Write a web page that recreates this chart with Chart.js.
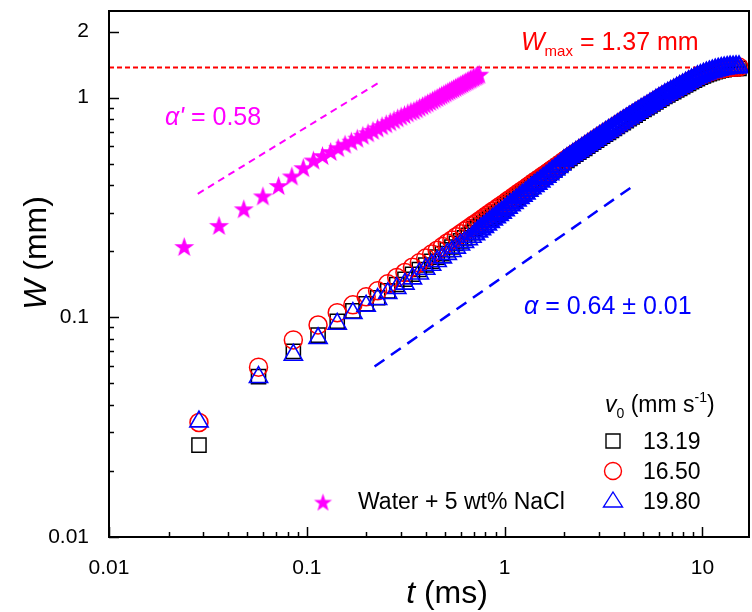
<!DOCTYPE html>
<html>
<head>
<meta charset="utf-8">
<script src="https://cdn.jsdelivr.net/npm/chart.js@4.4.1/dist/chart.umd.min.js"></script>
<style>
  html, body { margin: 0; padding: 0; background: #fff; }
  #wrap { width: 752px; height: 612px; }
</style>
</head>
<body>
<div id="wrap"><canvas id="graph" width="752" height="612"></canvas></div>
<script>
// frame times (ms), shared by the three v0 runs
const timeMs = [0.0285, 0.057, 0.0855, 0.114, 0.1425, 0.171, 0.1995, 0.228, 0.2565, 0.285,
  0.3135, 0.342, 0.3705, 0.399, 0.4275, 0.456, 0.4845, 0.513, 0.5415, 0.57,
  0.5985, 0.627, 0.6555, 0.684,
  0.708, 0.733, 0.759, 0.785, 0.813, 0.841, 0.871, 0.902, 0.933, 0.966,
  1.000, 1.035, 1.072, 1.109, 1.148, 1.189, 1.230, 1.274, 1.318, 1.365,
  1.413, 1.462, 1.514, 1.567, 1.622, 1.679, 1.738, 1.799, 1.862, 1.928,
  1.995, 2.065, 2.138, 2.213, 2.291, 2.371, 2.455, 2.541, 2.630, 2.723,
  2.818, 2.917, 3.020, 3.126, 3.236, 3.350, 3.467, 3.589, 3.715, 3.846,
  3.981, 4.121, 4.266, 4.416, 4.571, 4.732, 4.898, 5.070, 5.248, 5.433,
  5.623, 5.821, 6.026, 6.237, 6.457, 6.683, 6.918, 7.161, 7.413, 7.674,
  7.943, 8.222, 8.511, 8.810, 9.120, 9.441, 9.772, 10.12, 10.47, 10.84,
  11.22, 11.61, 12.02, 12.45, 12.88, 13.34, 13.80, 14.29, 14.79, 15.31];

// W (mm), v0 = 13.19 mm/s (squares)
const w1319 = [0.0262, 0.0537, 0.0700, 0.0830, 0.0960, 0.107, 0.1153, 0.1228, 0.132, 0.141,
  0.149, 0.157, 0.165, 0.173, 0.180, 0.188, 0.195, 0.203, 0.209, 0.217,
  0.223, 0.230, 0.236, 0.243,
  0.253, 0.258, 0.264, 0.270, 0.277, 0.282, 0.289, 0.295, 0.301, 0.308,
  0.321, 0.329, 0.336, 0.343, 0.351, 0.359, 0.367, 0.374, 0.383, 0.392,
  0.407, 0.416, 0.425, 0.434, 0.443, 0.453, 0.464, 0.474, 0.485, 0.496,
  0.507, 0.518, 0.529, 0.541, 0.553, 0.564, 0.576, 0.588, 0.601, 0.614,
  0.627, 0.640, 0.654, 0.668, 0.682, 0.695, 0.709, 0.724, 0.739, 0.755,
  0.770, 0.786, 0.802, 0.818, 0.833, 0.850, 0.867, 0.884, 0.900, 0.918,
  0.936, 0.955, 0.973, 0.992, 1.012, 1.029, 1.047, 1.065, 1.084, 1.102,
  1.122, 1.142, 1.161, 1.182, 1.202, 1.221, 1.239, 1.256, 1.272, 1.286,
  1.299, 1.312, 1.323, 1.333, 1.341, 1.348, 1.352, 1.355, 1.357, 1.357];

// W (mm), v0 = 16.50 mm/s (circles)
const w1650 = [0.0332, 0.0593, 0.0789, 0.0923, 0.105, 0.114, 0.124, 0.132, 0.142, 0.152,
  0.160, 0.169, 0.177, 0.186, 0.194, 0.202, 0.210, 0.218, 0.225, 0.233,
  0.240, 0.247, 0.254, 0.261,
  0.266, 0.272, 0.278, 0.284, 0.291, 0.297, 0.304, 0.310, 0.317, 0.324,
  0.331, 0.339, 0.346, 0.354, 0.362, 0.370, 0.378, 0.386, 0.395, 0.404,
  0.413, 0.422, 0.431, 0.441, 0.450, 0.460, 0.471, 0.481, 0.492, 0.503,
  0.515, 0.526, 0.537, 0.549, 0.561, 0.573, 0.585, 0.597, 0.610, 0.623,
  0.637, 0.650, 0.664, 0.678, 0.692, 0.706, 0.720, 0.735, 0.750, 0.766,
  0.782, 0.798, 0.814, 0.830, 0.846, 0.863, 0.880, 0.897, 0.914, 0.932,
  0.950, 0.969, 0.988, 1.007, 1.027, 1.045, 1.063, 1.081, 1.100, 1.119,
  1.139, 1.159, 1.179, 1.200, 1.220, 1.240, 1.258, 1.275, 1.291, 1.306,
  1.319, 1.332, 1.343, 1.353, 1.361, 1.368, 1.373, 1.376, 1.378, 1.378];

// W (mm), v0 = 19.80 mm/s (triangles)
const w1980 = [0.0335, 0.0534, 0.0674, 0.0803, 0.0933, 0.1044, 0.1127, 0.1209, 0.1287, 0.1357,
  0.142, 0.150, 0.158, 0.166, 0.173, 0.180, 0.187, 0.194, 0.200, 0.207,
  0.214, 0.220, 0.226, 0.232,
  0.239, 0.246, 0.252, 0.258, 0.265, 0.272, 0.279, 0.286, 0.293, 0.300,
  0.308, 0.316, 0.324, 0.332, 0.341, 0.350, 0.358, 0.367, 0.377, 0.387,
  0.397, 0.406, 0.416, 0.427, 0.437, 0.449, 0.461, 0.472, 0.484, 0.497,
  0.515, 0.526, 0.537, 0.549, 0.561, 0.573, 0.585, 0.597, 0.610, 0.623,
  0.637, 0.650, 0.664, 0.678, 0.692, 0.706, 0.720, 0.735, 0.750, 0.766,
  0.782, 0.798, 0.814, 0.830, 0.846, 0.863, 0.880, 0.897, 0.914, 0.932,
  0.950, 0.969, 0.988, 1.007, 1.027, 1.045, 1.063, 1.081, 1.100, 1.119,
  1.139, 1.159, 1.179, 1.200, 1.220, 1.240, 1.258, 1.275, 1.291, 1.306,
  1.319, 1.332, 1.343, 1.353, 1.361, 1.368, 1.373, 1.376, 1.378, 1.378];

// water + 5 wt% NaCl (stars)
const saltTimeMs = [0.024, 0.036, 0.048, 0.060, 0.072, 0.084, 0.096, 0.108, 0.120, 0.132,
  0.144, 0.156, 0.168, 0.180, 0.192, 0.204, 0.216, 0.228, 0.240, 0.252,
  0.264, 0.276, 0.288, 0.300, 0.312, 0.324, 0.336, 0.348, 0.360, 0.372,
  0.384, 0.396, 0.408, 0.420, 0.432, 0.444, 0.456, 0.468, 0.480, 0.492,
  0.504, 0.516, 0.528, 0.540, 0.552, 0.564, 0.576, 0.588, 0.600, 0.612,
  0.624, 0.636, 0.648, 0.660, 0.672, 0.684, 0.696, 0.708, 0.720, 0.732, 0.744];
const saltW = [0.210, 0.262, 0.312, 0.357, 0.398, 0.440, 0.480, 0.520, 0.545, 0.569,
  0.592, 0.614, 0.634, 0.654, 0.674, 0.692, 0.710, 0.728, 0.745, 0.761,
  0.777, 0.793, 0.809, 0.824, 0.838, 0.853, 0.867, 0.875, 0.890, 0.905,
  0.919, 0.933, 0.947, 0.961, 0.975, 0.988, 1.002, 1.015, 1.028, 1.040,
  1.053, 1.066, 1.078, 1.090, 1.102, 1.114, 1.126, 1.137, 1.149, 1.160,
  1.172, 1.183, 1.194, 1.205, 1.216, 1.227, 1.238, 1.248, 1.259, 1.269, 1.279];

// guide lines
const wMaxT = [0.01, 17.2];
const wMaxW = [1.37, 1.37];
const alphaSaltT = [0.0281, 0.231];
const alphaSaltW = [0.365, 1.17];
const alphaT = [0.22, 4.46];
const alphaW = [0.0597, 0.396];

// axes
const xMin = 0.01, xMax = 17.2;
const yMin = 0.01, yMax = 2.48;
const xTicks = [0.01, 0.1, 1, 10];
const xTickLabels = ['0.01', '0.1', '1', '10'];
const yTicks = [0.01, 0.1, 1, 2];
const yTickLabels = ['0.01', '0.1', '1', '2'];

const FONT = "'Liberation Sans', Arial, sans-serif";
const RED = '#ff0000', BLUE = '#0000ff', MAG = '#ff00ff';

const pts = (xs, ys) => xs.map((x, i) => ({ x: x, y: ys[i] }));

// filled five-point star used as point style
function makeStar(outer, inner) {
  const c = document.createElement('canvas');
  c.width = c.height = Math.ceil(outer * 2 + 2);
  const g = c.getContext('2d');
  const cx = c.width / 2, cy = c.height / 2 + outer * 0.1;
  g.fillStyle = MAG;
  g.beginPath();
  for (let i = 0; i < 10; i++) {
    const r = i % 2 ? inner : outer;
    const a = -Math.PI / 2 + i * Math.PI / 5;
    g.lineTo(cx + r * Math.cos(a), cy + r * Math.sin(a));
  }
  g.closePath();
  g.fill();
  return c;
}
const starImg = makeStar(10.5, 4.2);
const starLegend = makeStar(9.5, 3.8);

function textRun(ctx, x, y, parts, color) {
  ctx.fillStyle = color;
  ctx.textAlign = 'left';
  ctx.textBaseline = 'alphabetic';
  for (const p of parts) {
    ctx.font = p.font;
    ctx.fillText(p.t, x, y + (p.dy || 0));
    x += ctx.measureText(p.t).width;
  }
  return x;
}

// no extra room for tick labels: the plot box is fixed
function fixBox(size, key) {
  return s => {
    s[key] = size;
    s.paddingLeft = s.paddingRight = s.paddingTop = s.paddingBottom = 0;
  };
}

const framePlugin = {
  id: 'frame',
  afterDatasetsDraw(chart) {
    const ctx = chart.ctx;
    const a = chart.chartArea;
    const sx = chart.scales.x, sy = chart.scales.y;
    ctx.save();
    ctx.strokeStyle = '#000';
    // inward tick marks
    ctx.lineWidth = 1.5;
    for (let d = -2; d <= 1; d++) {
      for (let m = 1; m <= 9; m++) {
        const v = m * Math.pow(10, d);
        if (v >= xMin * 0.999 && v <= xMax) {
          const p = Math.round(sx.getPixelForValue(v)) + 0.5;
          const len = m === 1 ? 10 : 5;
          ctx.beginPath(); ctx.moveTo(p, a.bottom); ctx.lineTo(p, a.bottom - len); ctx.stroke();
        }
        if (v >= yMin * 0.999 && v <= yMax) {
          const p = Math.round(sy.getPixelForValue(v)) + 0.5;
          const len = (m === 1 || v === 2) ? 10 : 5;
          ctx.beginPath(); ctx.moveTo(a.left, p); ctx.lineTo(a.left + len, p); ctx.stroke();
        }
      }
    }
    // box
    ctx.lineWidth = 2;
    ctx.strokeRect(a.left, a.top, a.right - a.left, a.bottom - a.top);
    ctx.restore();
  },
  afterDraw(chart) {
    const ctx = chart.ctx;
    ctx.save();
    // axis titles
    ctx.font = 'italic 32px ' + FONT;
    let wT = ctx.measureText('t').width;
    ctx.font = '32px ' + FONT;
    wT += ctx.measureText(' (ms)').width;
    textRun(ctx, 447 - wT / 2, 603, [
      { t: 't', font: 'italic 32px ' + FONT },
      { t: ' (ms)', font: '32px ' + FONT }], '#000');

    ctx.save();
    ctx.translate(46, 253);
    ctx.rotate(-Math.PI / 2);
    ctx.font = 'italic 32px ' + FONT;
    let wW = ctx.measureText('W').width;
    ctx.font = '32px ' + FONT;
    wW += ctx.measureText(' (mm)').width;
    textRun(ctx, -wW / 2, 0, [
      { t: 'W', font: 'italic 32px ' + FONT },
      { t: ' (mm)', font: '32px ' + FONT }], '#000');
    ctx.restore();

    // annotations
    textRun(ctx, 521, 50, [
      { t: 'W', font: 'italic 25px ' + FONT },
      { t: 'max', font: '15px ' + FONT, dy: 6 },
      { t: ' = 1.37 mm', font: '25px ' + FONT }], RED);
    textRun(ctx, 165, 125, [
      { t: 'α\'', font: 'italic 25px ' + FONT },
      { t: ' = 0.58', font: '25px ' + FONT }], MAG);
    textRun(ctx, 524, 314, [
      { t: 'α', font: 'italic 25px ' + FONT },
      { t: ' = 0.64 ± 0.01', font: '25px ' + FONT }], BLUE);

    // legend
    textRun(ctx, 605, 412, [
      { t: 'v', font: 'italic 23px ' + FONT },
      { t: '0', font: '14px ' + FONT, dy: 6 },
      { t: ' (mm s', font: '23px ' + FONT },
      { t: '-1', font: '14px ' + FONT, dy: -10 },
      { t: ')', font: '23px ' + FONT }], '#000');
    const rows = ['13.19', '16.50', '19.80'];
    const mx = 613;
    ctx.lineWidth = 1.4;
    rows.forEach((label, i) => {
      const base = 449 + i * 30;
      const cy = base - 8;
      ctx.beginPath();
      if (i === 0) {
        ctx.strokeStyle = '#000';
        ctx.rect(mx - 7, cy - 7, 14, 14);
      } else if (i === 1) {
        ctx.strokeStyle = RED;
        ctx.arc(mx, cy, 8.5, 0, Math.PI * 2);
      } else {
        ctx.strokeStyle = BLUE;
        ctx.moveTo(mx, cy - 9); ctx.lineTo(mx + 9.5, cy + 6); ctx.lineTo(mx - 9.5, cy + 6); ctx.closePath();
      }
      ctx.stroke();
      textRun(ctx, 643, base, [{ t: label, font: '23px ' + FONT }], '#000');
    });
    ctx.drawImage(starLegend, 323 - starLegend.width / 2, 502 - starLegend.height / 2);
    textRun(ctx, 358, 509, [{ t: 'Water + 5 wt% NaCl', font: '23px ' + FONT }], '#000');
    ctx.restore();
  }
};

const marker = { backgroundColor: 'rgba(0,0,0,0)', pointHoverRadius: 0 };
// thin outlines for the isolated early frames, heavier where the markers pile up
const bandWidth = (thin, thick) => c => (c.dataIndex < 24 ? thin : thick);

new Chart(document.getElementById('graph'), {
  type: 'scatter',
  data: {
    datasets: [
      { label: '19.80', data: pts(timeMs, w1980), pointStyle: 'triangle', pointRadius: 10.5,
        borderColor: BLUE, borderWidth: bandWidth(1.6, 2.3), order: 0, ...marker },
      { label: '16.50', data: pts(timeMs, w1650), pointStyle: 'circle', pointRadius: 9,
        borderColor: RED, borderWidth: 1.5, order: 1, ...marker },
      { label: '13.19', data: pts(timeMs, w1319), pointStyle: 'rect', pointRadius: 10,
        borderColor: '#000', borderWidth: 1.5, order: 2, ...marker },
      { label: 'Water + 5 wt% NaCl', data: pts(saltTimeMs, saltW), pointStyle: starImg,
        pointRadius: 10, order: 3 },
      { label: 'Wmax', data: pts(wMaxT, wMaxW), showLine: true, pointRadius: 0,
        borderColor: RED, borderWidth: 2, borderDash: [5, 3], order: 4 },
      { label: 'alpha prime', data: pts(alphaSaltT, alphaSaltW), showLine: true, pointRadius: 0,
        borderColor: MAG, borderWidth: 2, borderDash: [7, 5], order: 5 },
      { label: 'alpha', data: pts(alphaT, alphaW), showLine: true, pointRadius: 0,
        borderColor: BLUE, borderWidth: 2.5, borderDash: [12, 8], order: 6 }
    ]
  },
  options: {
    responsive: false,
    animation: false,
    devicePixelRatio: 1,
    layout: { autoPadding: false, padding: { top: 11, right: 3, left: 0, bottom: 0 } },
    plugins: { legend: { display: false }, tooltip: { enabled: false } },
    events: [],
    scales: {
      x: {
        type: 'logarithmic', min: xMin, max: xMax, position: 'bottom',
        grid: { display: false }, border: { display: false },
        ticks: { color: '#000', font: { family: FONT, size: 21 }, padding: 11,
          maxRotation: 0, autoSkip: false, callback: (v, i) => xTickLabels[i] },
        afterBuildTicks: s => { s.ticks = xTicks.map(v => ({ value: v })); },
        afterFit: fixBox(75, 'height')
      },
      y: {
        type: 'logarithmic', min: yMin, max: yMax, position: 'left',
        grid: { display: false }, border: { display: false },
        ticks: { color: '#000', font: { family: FONT, size: 21 }, padding: 12,
          autoSkip: false, callback: (v, i) => yTickLabels[i] },
        afterBuildTicks: s => { s.ticks = yTicks.map(v => ({ value: v })); },
        afterFit: fixBox(109, 'width')
      }
    }
  },
  plugins: [framePlugin]
});
</script>
</body>
</html>
